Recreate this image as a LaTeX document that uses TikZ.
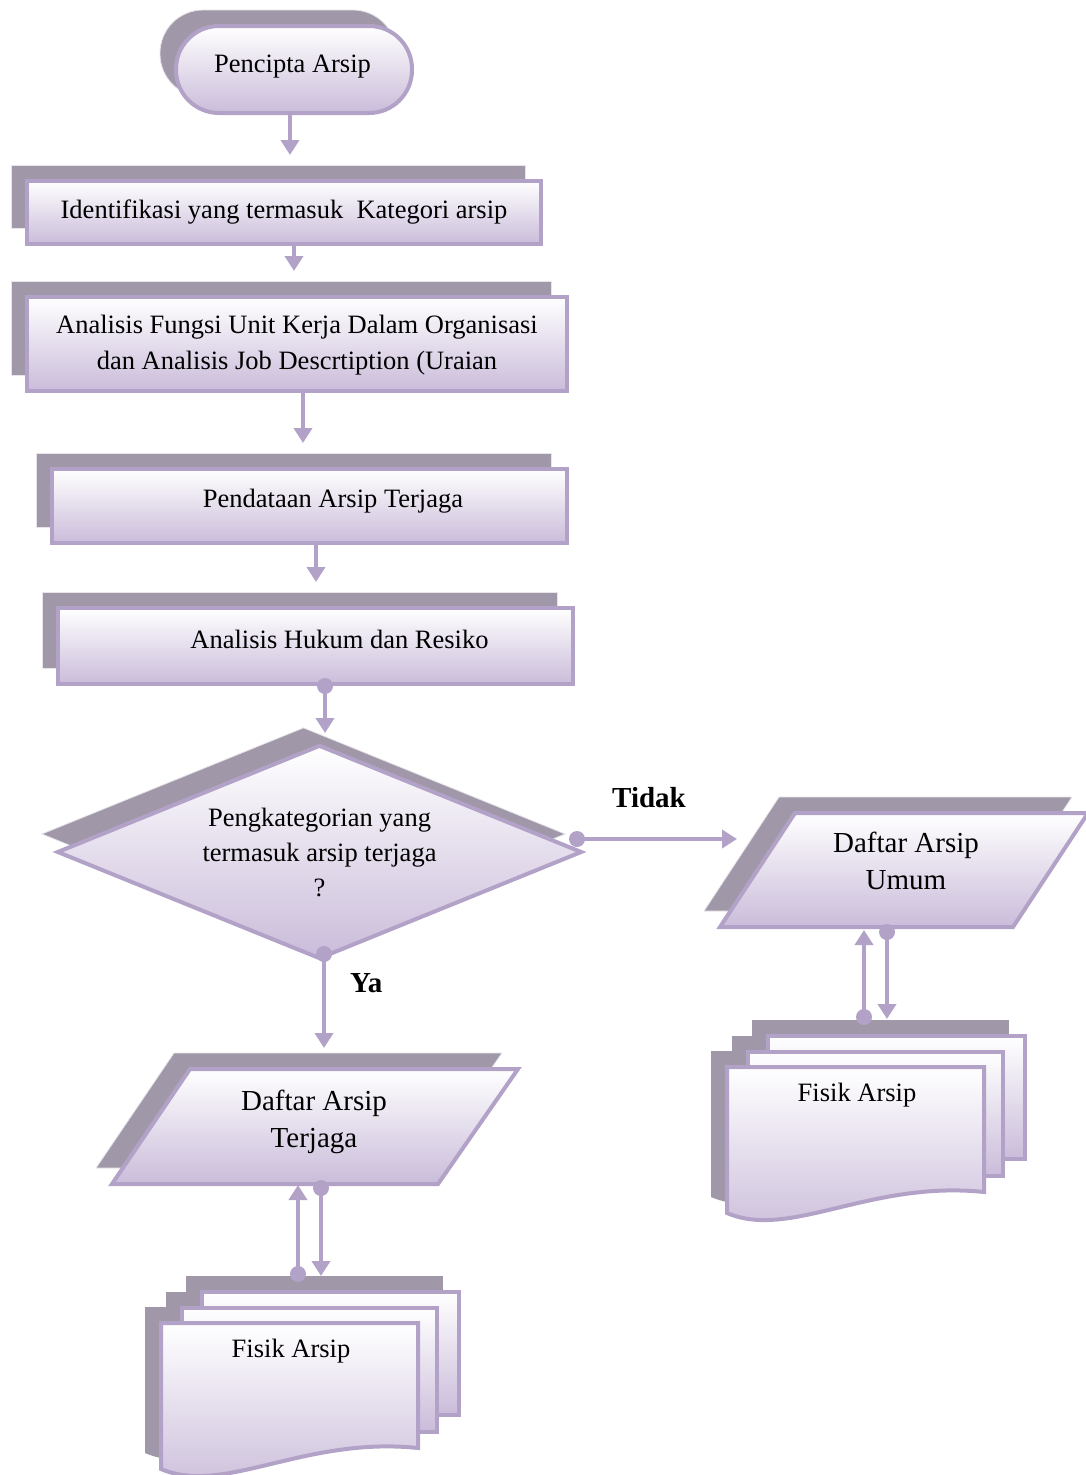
\documentclass[tikz,border=0pt]{standalone}
\usepackage{fontspec}
\setmainfont{Liberation Serif}
\usetikzlibrary{shapes.geometric,arrows.meta,shadows}
\definecolor{lav}{HTML}{B3A2C7}
\definecolor{lavbot}{HTML}{CABCDA}
\definecolor{shadowgray}{HTML}{A098A8}
\tikzset{
  boxfill/.style={top color=white, bottom color=lavbot, draw=lav, line width=4pt},
  shadowed/.style={general shadow={shadow xshift=-16pt, shadow yshift=16pt,
      fill=shadowgray, draw=white!75!shadowgray, line width=0.8pt}},
  procbox/.style={boxfill, shadowed, rectangle, inner sep=0pt},
  txt/.style={font=\fontsize{26.5}{36}\selectfont, align=center, inner sep=0pt},
  bigtxt/.style={font=\fontsize{29}{37}\selectfont, align=center, inner sep=0pt},
  yesno/.style={font=\fontsize{29}{34}\selectfont\bfseries, inner sep=0pt},
  flow/.style={draw=lav, line width=4pt, -{Triangle[width=18pt,length=15pt]}},
  pics/multidoc/.style={code={
    % shadow of the whole stack
    \begin{scope}[shift={(-16,-16)}]
      \fill[shadowgray] (41,-31) rectangle (298,92);
      \fill[shadowgray] (21,-15) rectangle (276,109);
      \fill[shadowgray] (0,0) -- (257,0) -- (257,125)
        .. controls (143,113) and (63,173) .. (0,146) -- cycle;
    \end{scope}
    % back, middle and front sheets
    \path[boxfill] (41,-31) rectangle (298,92);
    \path[boxfill] (21,-15) rectangle (276,109);
    \path[boxfill] (0,0) -- (257,0) -- (257,125)
      .. controls (143,113) and (63,173) .. (0,146) -- cycle;
    \node[txt, anchor=base] (-txt) at (130,34) {Fisik Arsip};
  }}
}
\begin{document}
\begin{tikzpicture}[x=1pt,y=-1pt]
\useasboundingbox (0,0) rectangle (1086,1475);

% start terminal
\node[procbox, rounded corners=43pt, minimum width=236pt, minimum height=87pt] (start) at (294,69.5) {};
\node[txt, anchor=base] (startT) at (292.5,72) {Pencipta Arsip};

% process steps
\node[procbox, minimum width=514pt, minimum height=63pt] (b2) at (284,212.5) {};
\node[txt, anchor=base] (b2T) at (284,218) {Identifikasi yang termasuk~ Kategori arsip};

\node[procbox, minimum width=540pt, minimum height=94pt] (b3) at (297,344) {};
\node[txt] (b3T) at (297,345) {Analisis Fungsi Unit Kerja Dalam Organisasi\\dan Analisis Job Descrtiption (Uraian};

\node[procbox, minimum width=515pt, minimum height=74pt] (b4) at (309.5,506) {};
\node[txt, anchor=base] (b4T) at (333,507) {Pendataan Arsip Terjaga};

\node[procbox, minimum width=515pt, minimum height=76pt] (b5) at (315.5,646) {};
\node[txt, anchor=base] (b5T) at (339.5,648) {Analisis Hukum dan Resiko};

% decision
\node[diamond, boxfill, shape aspect=2.45, minimum width=525pt, minimum height=214pt,
      inner sep=0pt, align=center, font=\fontsize{26.5}{35}\selectfont,
      general shadow={shadow xshift=-16pt, shadow yshift=18pt, fill=shadowgray,
                      draw=white!75!shadowgray, line width=0.8pt}]
  (dec) at (319.5,852) {Pengkategorian yang\\termasuk arsip terjaga\\?};

% data (parallelograms)
\path[boxfill, shadowed] (190,1069) -- (518,1069) -- (438,1184) -- (112,1184) -- cycle;
\node[bigtxt] (dafT) at (314,1122) {Daftar Arsip\\Terjaga};

\path[boxfill, shadowed] (795,813) -- (1088,813) -- (1013,927) -- (720,927) -- cycle;
\node[bigtxt] (dafU) at (906,861) {Daftar Arsip\\Umum};

% physical archives
\pic (fisT) at (161,1323) {multidoc};
\pic (fisU) at (727,1067) {multidoc};

% connectors
\coordinate (c1) at (290,155);
\coordinate (c2) at (294,271);
\coordinate (c3) at (303,443);
\coordinate (c4) at (316,582);
\coordinate (c5) at (325,733);
\draw[flow] (start.south -| c1) -- (c1);
\draw[flow] (b2.south -| c2) -- (c2);
\draw[flow] (b3.south -| c3) -- (c3);
\draw[flow] (b4.south -| c4) -- (c4);
\draw[flow] (b5.south -| c5) -- (c5);
\fill[lav] (b5.south -| c5) circle (8pt);

\coordinate (noS) at ([shift={(-7,-13)}]dec.east);
\coordinate (noE) at (737,839);
\draw[flow] (noS) -- (noE);
\fill[lav] (noS) circle (8pt);
\node[yesno, anchor=base] (tidak) at (649,807) {Tidak};

\coordinate (yesS) at ([shift={(4.5,-7)}]dec.south);
\coordinate (yesE) at (324,1048);
\draw[flow] (yesS) -- (yesE);
\fill[lav] (yesS) circle (8pt);
\node[yesno, anchor=base west] (ya) at (350,992) {Ya};

% exchange between lists and physical archives
\coordinate (tUpS) at (298,1274); \coordinate (tUpE) at (298,1185);
\coordinate (tDnS) at (321,1188); \coordinate (tDnE) at (321,1276);
\draw[flow] (tUpS) -- (tUpE); \fill[lav] (tUpS) circle (8pt);
\draw[flow] (tDnS) -- (tDnE); \fill[lav] (tDnS) circle (8pt);

\coordinate (uUpS) at (864,1017); \coordinate (uUpE) at (864,930);
\coordinate (uDnS) at (887,932); \coordinate (uDnE) at (887,1019);
\draw[flow] (uUpS) -- (uUpE); \fill[lav] (uUpS) circle (8pt);
\draw[flow] (uDnS) -- (uDnE); \fill[lav] (uDnS) circle (8pt);
\end{tikzpicture}
\end{document}
